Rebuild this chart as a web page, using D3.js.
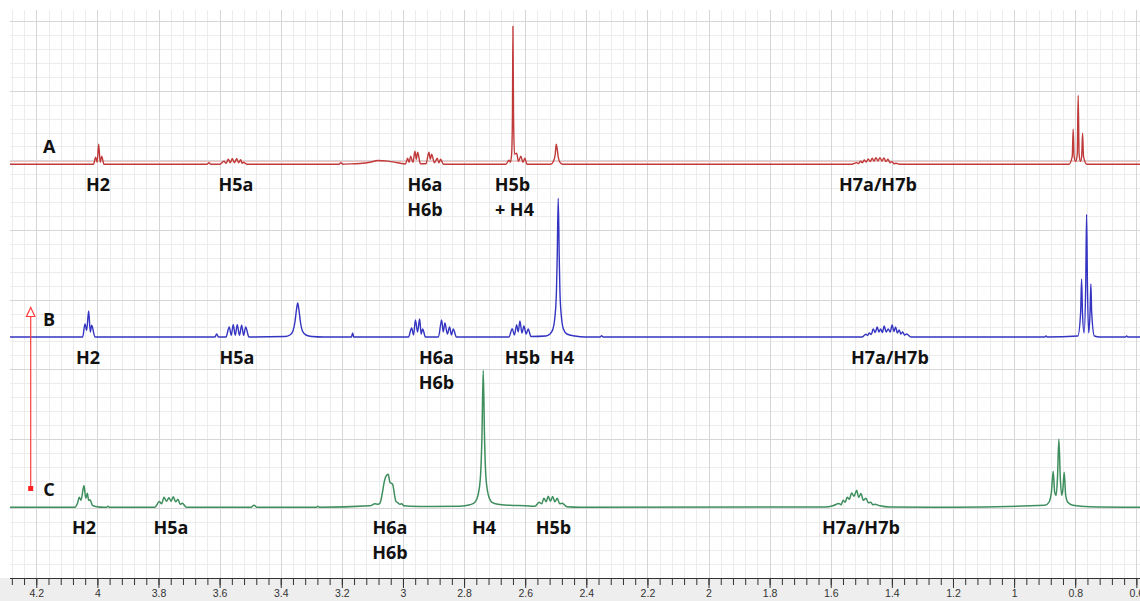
<!DOCTYPE html>
<html>
<head>
<meta charset="utf-8">
<script src="https://cdn.jsdelivr.net/npm/d3@7"></script>
<style>
  html, body { margin: 0; padding: 0; background: #fff; }
  svg { display: block; }
  .lbl { font-family: "Open Sans", sans-serif; font-weight: 700; font-size: 18px; fill: #111; }
  .axis text { font-family: "Liberation Sans", Arial, sans-serif; font-size: 10.5px; fill: #333; }
  .axis path, .axis line { stroke: #333; }
</style>
</head>
<body>
<svg id="chart" width="1140" height="601"></svg>
<script>
// chemical shift ticks (ppm)
const majorTicks = [4.2, 4, 3.8, 3.6, 3.4, 3.2, 3, 2.8, 2.6, 2.4, 2.2, 2, 1.8, 1.6, 1.4, 1.2, 1, 0.8, 0.6];

// spectra as [ppm, intensity]
const specA = [
  [4.286, 0],
  [4.0128, 0], [4.0056, 7], [4.0007, 2], [3.9958, 20], [3.9909, 2], [3.986, 8], [3.9785, 0],
  [3.6415, 0], [3.635, 1.5], [3.6285, 0],
  [3.5989, 0], [3.5858, 3], [3.5786, 1], [3.5717, 5], [3.5652, 1.5], [3.5586, 5.5], [3.5514, 1.5],
  [3.5442, 5.5], [3.5377, 1.5], [3.5312, 4.5], [3.5266, 1], [3.522, 2], [3.5105, 0],
  [3.21, 0], [3.203, 1.5], [3.197, 0.1],
  [3.1898, 0.2], [3.1408, 0.8], [3.1081, 2], [3.0819, 3.8], [3.0492, 3.2], [3.0165, 1.5], [2.9919, 0.3],
  [2.9847, 6], [2.9798, 2], [2.9749, 8], [2.9674, 2], [2.9608, 13], [2.9564, 5], [2.952, 12], [2.9428, 0.5],
  [2.9248, 0.5], [2.915, 12], [2.9104, 5], [2.9062, 10], [2.897, 1.5], [2.8878, 6], [2.8823, 1.5], [2.8767, 5], [2.8676, 0],
  [2.663, 0], [2.6532, 4], [2.6483, 2], [2.6444, 10], [2.6417, 50], [2.6401, 138], [2.6382, 50], [2.6349, 10],
  [2.628, 11], [2.6221, 3], [2.6139, 8], [2.6074, 2], [2.6009, 6], [2.5943, 0],
  [2.5158, 0], [2.5076, 3], [2.5017, 10], [2.4984, 20], [2.4952, 15], [2.4922, 8], [2.4863, 2], [2.4765, 0],
  [1.5308, 0], [1.5154, 1.7], [1.5088, 0.8], [1.5023, 3], [1.4964, 1.5], [1.4905, 4.3], [1.484, 2.2], [1.4774, 5.3],
  [1.4708, 2.8], [1.4643, 6], [1.4582, 3.2], [1.4522, 6.7], [1.4456, 3.4], [1.4391, 6.7], [1.4326, 3.3], [1.426, 6.3],
  [1.4194, 2.8], [1.4129, 5], [1.4063, 1.6], [1.3998, 2.7], [1.3932, 0.6], [1.3867, 1], [1.372, 0],
  [0.8207, 0], [0.8097, 8], [0.8067, 35], [0.8037, 8], [0.7985, 3], [0.7933, 10], [0.7903, 69], [0.7873, 10],
  [0.7831, 3], [0.7789, 8], [0.7759, 31], [0.7729, 8], [0.7618, 0],
  [0.588, 0]
];

const specB = [
  [4.286, 0],
  [4.0482, 0], [4.0406, 13], [4.0351, 6.7], [4.0285, 26], [4.0233, 5], [4.0187, 11.7], [4.0079, 0],
  [3.6152, 0], [3.6097, 3], [3.6038, 0],
  [3.5793, 0], [3.5685, 10], [3.5619, 1.7], [3.5554, 12.3], [3.5488, 1.7], [3.5423, 12.3], [3.5351, 1.7],
  [3.5279, 11.7], [3.5213, 1.7], [3.5148, 10], [3.504, 0],
  [3.3862, 0.5], [3.3698, 2], [3.36, 6], [3.3535, 15], [3.3486, 27], [3.3446, 34], [3.3404, 27], [3.3355, 15],
  [3.3289, 6], [3.3175, 2], [3.2978, 0.5], [3.26, 0],
  [3.1686, 0], [3.1647, 4], [3.161, 0],
  [2.982, 0], [2.9716, 9], [2.9654, 2], [2.9592, 17], [2.9523, 5], [2.9454, 18], [2.9405, 3], [2.9356, 8], [2.9264, 0],
  [2.9052, 0], [2.8839, 0], [2.8734, 17], [2.8682, 5], [2.8626, 14], [2.8548, 3], [2.8473, 10], [2.8414, 2], [2.8355, 8], [2.825, 0],
  [2.6532, 0], [2.6424, 8.3], [2.6352, 2], [2.628, 12], [2.6228, 5], [2.6172, 16], [2.6107, 4], [2.6041, 11],
  [2.5969, 3], [2.5901, 8], [2.5812, 0.5],
  [2.5321, 1], [2.519, 3], [2.5092, 8], [2.5027, 20], [2.4978, 45], [2.4952, 80], [2.4919, 138.7], [2.4886, 80],
  [2.4863, 45], [2.4814, 20], [2.4749, 8], [2.4634, 3], [2.4372, 1], [2.4045, 0],
  [2.355, 0], [2.3499, 1.2], [2.345, 0],
  [1.4981, 0], [1.485, 2.7], [1.4796, 1.5], [1.4742, 4], [1.4676, 2.5], [1.4611, 8], [1.4545, 4.5], [1.448, 10],
  [1.4424, 5], [1.4369, 8], [1.431, 4.5], [1.4251, 11], [1.4185, 5], [1.412, 8], [1.4055, 5], [1.399, 12],
  [1.3934, 5.5], [1.3878, 10], [1.382, 4], [1.3761, 7], [1.3705, 3], [1.3649, 5], [1.3583, 1.8], [1.3518, 3], [1.3378, 0],
  [0.9, 0], [0.896, 1], [0.892, 0],
  [0.7913, 1], [0.7822, 25], [0.7792, 57.7], [0.7763, 25], [0.771, 4], [0.7657, 50], [0.7628, 122.7], [0.7599, 50],
  [0.756, 4], [0.7514, 25], [0.7488, 53], [0.7462, 25], [0.7373, 1], [0.72, 0],
  [0.635, 0], [0.6319, 1], [0.628, 0],
  [0.588, 0]
];

const specC = [
  [4.286, 0],
  [4.0734, 0], [4.0652, 4], [4.0593, 10], [4.0537, 7], [4.0439, 21.7], [4.038, 9], [4.0331, 14], [4.0285, 7],
  [4.0243, 7.5], [4.0161, 2], [4.0014, 0.5], [3.98, 0],
  [3.97, 0], [3.9654, 1], [3.961, 0],
  [3.8116, 0], [3.7975, 5.7], [3.7897, 3.5], [3.7821, 10], [3.774, 6], [3.7658, 9.5], [3.7586, 6], [3.7517, 10.5],
  [3.7439, 5.5], [3.7363, 8], [3.7291, 3], [3.7223, 4], [3.7085, 0],
  [3.4974, 0], [3.4876, 2], [3.4778, 0],
  [3.283, 0], [3.2782, 1], [3.2734, 0],
  [3.1081, 1.5], [3.0917, 3.5], [3.0819, 3], [3.0753, 4], [3.0671, 15], [3.0622, 24], [3.0557, 31], [3.0482, 33],
  [3.0426, 25], [3.0338, 23], [3.0262, 10], [3.023, 6], [3.0164, 4.5], [3.0099, 3], [3.0043, 3.5], [2.9968, 1.5],
  [2.9772, 1], [2.9117, 0.8],
  [2.8135, 1], [2.7808, 2.5], [2.7645, 5], [2.7546, 12], [2.7465, 30], [2.7416, 70], [2.7373, 137], [2.7331, 70],
  [2.7285, 30], [2.7203, 12], [2.7088, 5], [2.6892, 3], [2.6499, 2], [2.6009, 1.5], [2.5681, 1],
  [2.5541, 5], [2.5462, 3.5], [2.5387, 9], [2.5315, 5.5], [2.5246, 11], [2.5174, 6], [2.5102, 10.7], [2.5027, 5.5],
  [2.4952, 9], [2.487, 3.5], [2.4788, 4], [2.4634, 0.5], [2.4209, 0],
  [1.6192, 0.3], [1.593, 1.5], [1.5733, 3.7], [1.5661, 2.5], [1.5593, 7], [1.5527, 5], [1.5462, 10], [1.539, 8],
  [1.5318, 14.3], [1.5236, 11], [1.5154, 17], [1.5086, 10], [1.5013, 13.7], [1.4932, 7], [1.485, 9], [1.4768, 4.5],
  [1.4687, 5], [1.4621, 2.5], [1.4556, 3], [1.4392, 1.5], [1.4065, 0.3], [1.2, 0],
  [0.8993, 2], [0.8862, 5], [0.878, 15], [0.8721, 36], [0.8672, 15], [0.8623, 12], [0.858, 30], [0.8535, 68],
  [0.8489, 30], [0.8443, 12], [0.8404, 18], [0.8361, 35], [0.8312, 12], [0.824, 5], [0.8077, 2], [0.752, 0.5],
  [0.588, 0]
];

// peak assignments: [text, ppm centre, line]
const labelsA = [["H2", 3.998, 0], ["H5a", 3.5465, 0], ["H6a", 2.9281, 0], ["H6b", 2.9281, 1],
  ["H5b", 2.6417, 0], ["+ H4", 2.6352, 1], ["H7a/H7b", 1.4457, 0]];
const labelsB = [["H2", 4.0308, 0], ["H5a", 3.5433, 0], ["H6a", 2.8904, 0], ["H6b", 2.8904, 1],
  ["H5b", 2.609, 0], ["H4", 2.4798, 0], ["H7a/H7b", 1.4065, 0]];
const labelsC = [["H2", 4.0439, 0], ["H5a", 3.7592, 0], ["H6a", 3.0426, 0], ["H6b", 3.0426, 1],
  ["H4", 2.735, 0], ["H5b", 2.5076, 0], ["H7a/H7b", 1.5013, 0]];

const W = 1140, H = 601;
const plotLeft = 10, plotTop = 10, axisY = 578;

const svg = d3.select("#chart");

const x = d3.scaleLinear().domain([4.286, 0.588]).range([plotLeft, W]);
// vertical grid scale (8 major divisions)
const gy = d3.scaleLinear().domain([0, 8]).range([axisY, 21.2]);

// gray band under the axis
svg.append("rect")
  .attr("x", 0).attr("y", axisY).attr("width", W).attr("height", H - axisY)
  .attr("fill", "#eeeeee");

// grid
const minorX = d3.range(107, 14, -1).map(d => +(d * 0.04).toFixed(2)).filter(d => d <= 4.286 && d >= 0.588);
const minorY = d3.range(0, 41).map(d => +(d * 0.2).toFixed(1)).filter(d => gy(d) >= plotTop);
const majorY = d3.range(1, 9);

const grid = svg.append("g");
grid.selectAll(".vmin").data(minorX).join("line")
  .attr("x1", d => Math.round(x(d)) + 0.5).attr("x2", d => Math.round(x(d)) + 0.5)
  .attr("y1", plotTop).attr("y2", axisY)
  .attr("stroke", "#ececec");
grid.selectAll(".hmin").data(minorY).join("line")
  .attr("x1", plotLeft).attr("x2", W)
  .attr("y1", d => Math.round(gy(d)) + 0.5).attr("y2", d => Math.round(gy(d)) + 0.5)
  .attr("stroke", "#ececec");
grid.selectAll(".vmaj").data(majorTicks).join("line")
  .attr("x1", d => Math.round(x(d)) + 0.5).attr("x2", d => Math.round(x(d)) + 0.5)
  .attr("y1", plotTop).attr("y2", axisY)
  .attr("stroke", "#d6d6d6");
grid.selectAll(".hmaj").data(majorY).join("line")
  .attr("x1", plotLeft).attr("x2", W)
  .attr("y1", d => Math.round(gy(d)) + 0.5).attr("y2", d => Math.round(gy(d)) + 0.5)
  .attr("stroke", "#d6d6d6");

// axis: minor ticks first, then labelled majors
const minorAxis = d3.axisBottom(x).tickValues(minorX).tickSize(7).tickFormat("");
svg.append("g").attr("class", "axis")
  .attr("transform", `translate(0,${axisY})`)
  .call(minorAxis)
  .call(g => g.select(".domain").remove());

const majorAxis = d3.axisBottom(x).tickValues(majorTicks).tickSize(10).tickSizeOuter(0)
  .tickPadding(2).tickFormat(d3.format("~g"));
svg.append("g").attr("class", "axis")
  .attr("transform", `translate(0,${axisY})`)
  .call(majorAxis)
  .call(g => g.select(".domain").attr("d", `M${plotLeft},0.5H${W}`));

// the three traces
const rows = [
  { name: "A", data: specA, labels: labelsA, color: "#c03a3a", base: 164.3, width: 1.4 },
  { name: "B", data: specB, labels: labelsB, color: "#3434c2", base: 337, width: 1.4 },
  { name: "C", data: specC, labels: labelsC, color: "#3f8f5e", base: 507.3, width: 1.5 }
];

rows.forEach(row => {
  const y = d3.scaleLinear().domain([0, 140]).range([row.base, row.base - 140]);
  const pts = row.data.slice().sort((a, b) => b[0] - a[0]);

  if (row.name === "A") {
    // faint reference line just above trace A
    svg.append("line")
      .attr("x1", plotLeft).attr("x2", W)
      .attr("y1", y(2.8)).attr("y2", y(2.8))
      .attr("stroke", "#f3c4c4").attr("stroke-width", 1);
  }

  const line = d3.line()
    .x(d => x(d[0]))
    .y(d => y(d[1]))
    .curve(d3.curveMonotoneX);

  svg.append("path")
    .datum(pts)
    .attr("d", line)
    .attr("fill", "none")
    .attr("stroke", row.color)
    .attr("stroke-width", row.width)
    .attr("stroke-linejoin", "round");

  // trace letter
  svg.append("text")
    .attr("class", "lbl")
    .attr("x", x(4.158))
    .attr("y", row.base - 11)
    .attr("text-anchor", "middle")
    .text(row.name);

  // assignments under the trace
  svg.selectAll(null).data(row.labels).join("text")
    .attr("class", "lbl")
    .attr("x", d => x(d[1]))
    .attr("y", d => row.base + 27 + d[2] * 25)
    .attr("text-anchor", "middle")
    .text(d => d[0]);
});

// red arrow from C up to B
const arrowX = 30.7;
svg.append("line")
  .attr("x1", arrowX).attr("x2", arrowX)
  .attr("y1", 316.5).attr("y2", 488)
  .attr("stroke", "#ff3b3b").attr("stroke-width", 1.2);
svg.append("path")
  .attr("d", `M${arrowX},307.5L${arrowX + 4.2},316.5L${arrowX - 4.2},316.5Z`)
  .attr("fill", "#fff").attr("stroke", "#ff3b3b").attr("stroke-width", 1.2);
svg.append("rect")
  .attr("x", arrowX - 2.5).attr("y", 486).attr("width", 5).attr("height", 5)
  .attr("fill", "#ff2020");
</script>
</body>
</html>
